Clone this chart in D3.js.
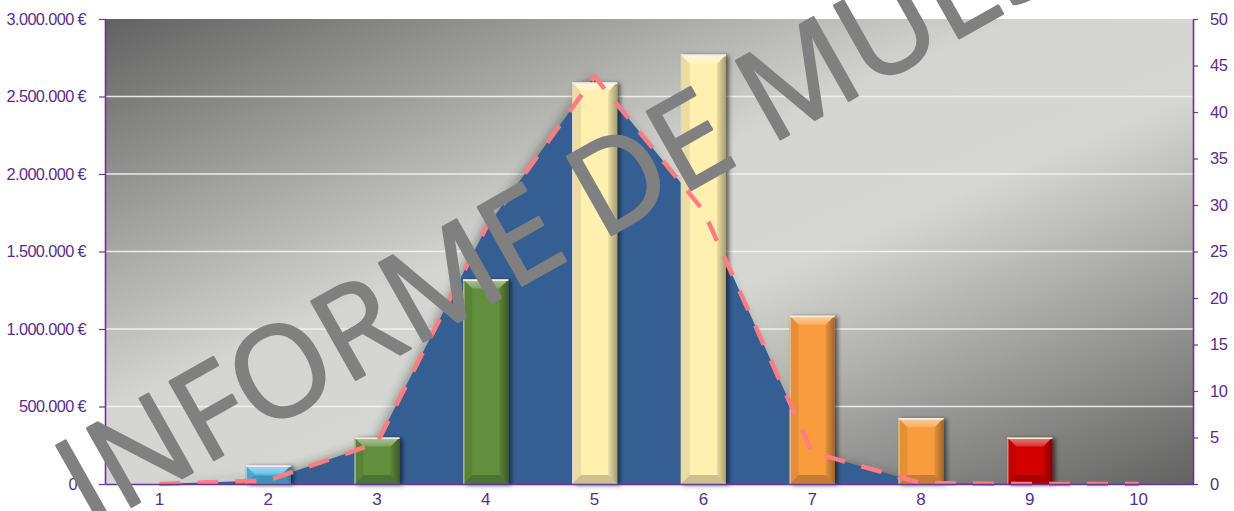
<!DOCTYPE html>
<html>
<head>
<meta charset="utf-8">
<script src="https://cdn.jsdelivr.net/npm/d3@7"></script>
<style>
  body { margin: 0; background: #fff; }
  svg { display: block; }
  .axis text { font-family: "Liberation Sans", Arial, sans-serif; fill: #5c2d8c; }
</style>
</head>
<body>
<svg id="chart" width="1234" height="511"></svg>
<script>
// datos
const categories = ["1", "2", "3", "4", "5", "6", "7", "8", "9", "10"];
const importes = [0, 120000, 300000, 1320000, 2590000, 2770000, 1085000, 425000, 300000, 0];
const cantidades = [0, 0.4, 4.4, 27.5, 43.8, 29.4, 3.4, 0.1, 0, 0];
const leftTicks = [0, 500000, 1000000, 1500000, 2000000, 2500000, 3000000];
const rightTicks = [0, 5, 10, 15, 20, 25, 30, 35, 40, 45, 50];
const watermark = "INFORME DE MUESTRA";

// colores de barra por categoria
const barColors = ["#4fb6e6", "#4fb6e6", "#628f3c", "#628f3c", "#fff0b0", "#fff0b0",
                   "#f89c3e", "#f89c3e", "#d40000", "#d40000"];

const area = {left: 105, right: 1193, top: 19, bottom: 484};
const purple = "#6a3596";

const svg = d3.select("#chart");
const defs = svg.append("defs");

const bg = defs.append("linearGradient").attr("id", "bg")
  .attr("x1", 0).attr("y1", 0).attr("x2", 1).attr("y2", 1);
bg.append("stop").attr("offset", 0).attr("stop-color", "#626262");
bg.append("stop").attr("offset", 0.42).attr("stop-color", "#d4d4d0");
bg.append("stop").attr("offset", 0.58).attr("stop-color", "#d6d6d2");
bg.append("stop").attr("offset", 1).attr("stop-color", "#626261");

// biselado superior
const topBevel = defs.append("linearGradient").attr("id", "topBevel")
  .attr("x1", 0).attr("y1", 0).attr("x2", 0).attr("y2", 1);
topBevel.append("stop").attr("offset", 0).attr("stop-color", "#fff").attr("stop-opacity", 0.5);
topBevel.append("stop").attr("offset", 1).attr("stop-color", "#fff").attr("stop-opacity", 0.18);

const rightBevel = defs.append("linearGradient").attr("id", "rightBevel")
  .attr("x1", 0).attr("y1", 0).attr("x2", 1).attr("y2", 0);
rightBevel.append("stop").attr("offset", 0).attr("stop-color", "#000").attr("stop-opacity", 0.08);
rightBevel.append("stop").attr("offset", 1).attr("stop-color", "#000").attr("stop-opacity", 0.35);

const barShadow = defs.append("filter").attr("id", "barShadow")
  .attr("x", "-20%").attr("y", "-20%").attr("width", "160%").attr("height", "140%");
barShadow.append("feDropShadow").attr("dx", 3).attr("dy", 1)
  .attr("stdDeviation", 2).attr("flood-color", "#000").attr("flood-opacity", 0.55);

const areaShadow = defs.append("filter").attr("id", "areaShadow")
  .attr("x", "-10%").attr("y", "-10%").attr("width", "120%").attr("height", "120%");
areaShadow.append("feDropShadow").attr("dx", -4).attr("dy", -2)
  .attr("stdDeviation", 4).attr("flood-color", "#333").attr("flood-opacity", 0.35);

const x = d3.scaleBand().domain(categories).range([area.left, area.right]);
const yL = d3.scaleLinear().domain([0, 3000000]).range([area.bottom, area.top]);
const yR = d3.scaleLinear().domain([0, 50]).range([area.bottom, area.top]);
const cx = d => x(d) + x.bandwidth() / 2;

// fondo
svg.append("rect")
  .attr("x", area.left).attr("y", area.top)
  .attr("width", area.right - area.left).attr("height", area.bottom - area.top)
  .attr("fill", "url(#bg)");

// lineas de division
svg.append("g").selectAll("line")
  .data(leftTicks.filter(t => t > 0 && t < 3000000))
  .join("line")
  .attr("x1", area.left).attr("x2", area.right)
  .attr("y1", d => yL(d)).attr("y2", d => yL(d))
  .attr("stroke", "#f4f4f2").attr("stroke-width", 1.6).attr("opacity", 0.9);

// area azul (cantidades, eje derecho)
const pts = categories.map((c, i) => [cx(c), cantidades[i]]);
svg.append("path")
  .datum(pts)
  .attr("fill", "#365f93")
  .attr("filter", "url(#areaShadow)")
  .attr("d", d3.area().x(d => d[0]).y0(yR(0)).y1(d => yR(d[1])));

// barras con biselado
const bw = x.bandwidth() * 0.415;
const bars = svg.append("g").selectAll("g")
  .data(categories.map((c, i) => ({c: c, v: importes[i], color: barColors[i]})).filter(d => d.v > 0))
  .join("g")
  .attr("filter", "url(#barShadow)");

bars.each(function(d) {
  const g = d3.select(this);
  const bx = cx(d.c) - bw / 2, by = yL(d.v), bh = yL(0) - yL(d.v);
  const b = Math.min(9, bh / 2.2, bw / 2);
  g.append("rect").attr("x", bx).attr("y", by).attr("width", bw).attr("height", bh)
    .attr("fill", d.color);
  const poly = (p, fill, op) => g.append("polygon")
    .attr("points", p.map(q => q.join(",")).join(" "))
    .attr("fill", fill).attr("opacity", op);
  poly([[bx, by], [bx + bw, by], [bx + bw - b, by + b], [bx + b, by + b]], "url(#topBevel)", 1);
  poly([[bx, by], [bx + b, by + b], [bx + b, by + bh - b], [bx, by + bh]], "#000", 0.08);
  poly([[bx + bw, by], [bx + bw - b, by + b], [bx + bw - b, by + bh - b], [bx + bw, by + bh]], "url(#rightBevel)", 1);
  poly([[bx, by + bh], [bx + b, by + bh - b], [bx + bw - b, by + bh - b], [bx + bw, by + bh]], "#000", 0.2);
  g.append("line").attr("x1", bx).attr("x2", bx + bw).attr("y1", by + 0.7).attr("y2", by + 0.7)
    .attr("stroke", "#f2eee4").attr("stroke-width", 1.6);
  g.append("line").attr("x1", bx + 0.6).attr("x2", bx + 0.6).attr("y1", by).attr("y2", by + bh)
    .attr("stroke", "#d8d6d0").attr("stroke-width", 1.2).attr("opacity", 0.8);
});

// linea discontinua
svg.append("path")
  .datum(pts)
  .attr("fill", "none")
  .attr("stroke", "#ff7c80")
  .attr("stroke-width", 4.5)
  .attr("stroke-dasharray", "21,17")
  .attr("d", d3.line().x(d => d[0]).y(d => yR(d[1])));

// ejes
const es = d3.formatLocale({decimal: ",", thousands: ".", grouping: [3], currency: ["", " €"]});
const fmt = es.format(",.0f");

const axL = svg.append("g").attr("class", "axis")
  .attr("transform", "translate(" + area.left + ",0)")
  .call(d3.axisLeft(yL).tickValues(leftTicks).tickSize(6).tickSizeOuter(0).tickPadding(13)
    .tickFormat(v => v === 0 ? "0" : fmt(v) + " €"));
axL.selectAll("text").attr("font-size", 16.3).attr("letter-spacing", -0.6)
  .attr("dx", d => d === 0 ? -9 : 0);

const axR = svg.append("g").attr("class", "axis")
  .attr("transform", "translate(" + area.right + ",0)")
  .call(d3.axisRight(yR).tickValues(rightTicks).tickSize(5).tickSizeOuter(0).tickPadding(12));
axR.selectAll("text").attr("font-size", 16.5).attr("letter-spacing", -0.5);

const axB = svg.append("g").attr("class", "axis")
  .attr("transform", "translate(0," + area.bottom + ")")
  .call(d3.axisBottom(x).tickSize(0).tickSizeOuter(0).tickPadding(9));
axB.selectAll("text").attr("font-size", 17);

svg.selectAll(".axis .domain").attr("stroke", purple).attr("stroke-width", 1.6);
svg.selectAll(".axis .tick line").attr("stroke", purple).attr("stroke-width", 1.2);

// marca de agua
svg.append("text")
  .attr("transform", "translate(90,530) rotate(-29.5)")
  .attr("font-family", "'Open Sans', sans-serif")
  .attr("font-size", 126)
  .attr("fill", "#808080")
  .attr("stroke", "#808080")
  .attr("stroke-width", 2.5)
  .attr("stroke-linejoin", "round")
  .text(watermark);
</script>
</body>
</html>
